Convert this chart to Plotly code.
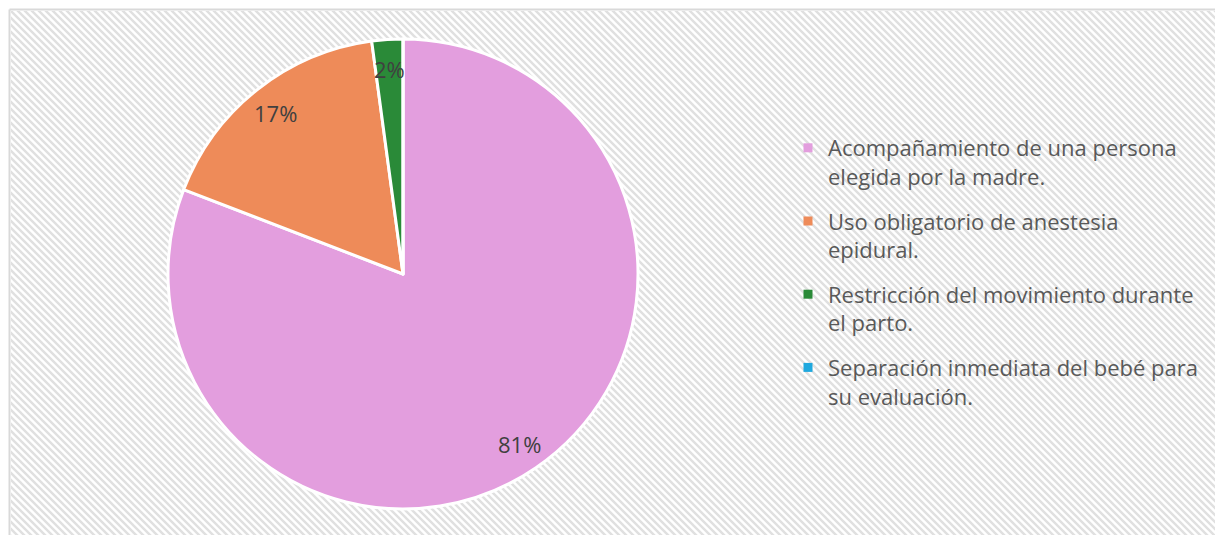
import base64
import math
import plotly.graph_objects as go

W, H = 1215, 535

labels = [
    "Acompañamiento de una persona<br>elegida por la madre.",
    "Uso obligatorio de anestesia<br>epidural.",
    "Restricción del movimiento durante<br>el parto.",
    "Separación inmediata del bebé para<br>su evaluación.",
]
values = [38, 8, 1, 0]
colors = ["#E39EDE", "#EE8B59", "#2A8A38", "#1FA8DE"]

# pie geometry in pixels (used for the domain and label placement)
CX, CY, R = 403, 274, 235

# diagonal hatch background, like the Excel "light downward diagonal" fill
svg = (
    f'<svg xmlns="http://www.w3.org/2000/svg" width="{W}" height="{H}">'
    '<defs><pattern id="p" width="7" height="7" patternUnits="userSpaceOnUse">'
    '<rect width="7" height="7" fill="#ffffff"/>'
    '<path d="M-1,-1 L8,8 M-1,6 L1,8 M6,-1 L8,1" stroke="#E0E0E0" stroke-width="2.4"/>'
    '</pattern></defs>'
    f'<rect x="11" y="11" width="{W}" height="{H}" fill="url(#p)"/>'
    '</svg>'
)
bg_src = "data:image/svg+xml;base64," + base64.b64encode(svg.encode()).decode()

fig = go.Figure()

fig.add_trace(go.Pie(
    labels=labels,
    values=values,
    sort=False,
    direction="clockwise",
    rotation=0,
    textinfo="none",
    hoverinfo="label+percent",
    showlegend=False,
    marker=dict(colors=colors, line=dict(color="white", width=3)),
    domain=dict(x=[(CX - R) / W, (CX + R) / W], y=[1 - (CY + R) / H, 1 - (CY - R) / H]),
))

# legend entries, one group each so the gap between entries can be set
for name, c in zip(labels, colors):
    fig.add_trace(go.Scatter(
        x=[None], y=[None], mode="markers", name=name, legendgroup=name,
        marker=dict(symbol="square", size=9, color=c, line=dict(width=0)),
    ))

# percentage labels along each slice's bisector
total = sum(values)
cum = 0
for v in values:
    if v > 0:
        theta = 2 * math.pi * (cum + v / 2) / total
        px = CX + 0.875 * R * math.sin(theta)
        py = CY - 0.875 * R * math.cos(theta)
        fig.add_annotation(
            x=px / W, y=1 - py / H, xref="paper", yref="paper",
            xanchor="center", yanchor="middle",
            text=f"{round(100 * v / total)}%", showarrow=False,
            font=dict(size=22, color="#404040"),
        )
    cum += v

fig.add_layout_image(dict(
    source=bg_src, xref="paper", yref="paper", x=0, y=1, sizex=1, sizey=1,
    xanchor="left", yanchor="top", sizing="stretch", layer="below",
))

# chart border: only the left and top edges fall inside the picture
bx, by = 9.5 / W, 1 - 9.5 / H
border = dict(color="#D9D9D9", width=2)
fig.add_shape(type="line", xref="paper", yref="paper", x0=bx, y0=-0.05, x1=bx, y1=by, line=border)
fig.add_shape(type="line", xref="paper", yref="paper", x0=bx, y0=by, x1=1.05, y1=by, line=border)

fig.update_layout(
    width=W, height=H,
    margin=dict(l=0, r=0, t=0, b=0),
    paper_bgcolor="white",
    plot_bgcolor="rgba(0,0,0,0)",
    font=dict(family="Open Sans", color="#595959"),
    xaxis=dict(visible=False),
    yaxis=dict(visible=False),
    showlegend=True,
    legend=dict(
        x=(829 - 41) / W, y=1 - (149 - 22) / H,
        xanchor="left", yanchor="top",
        font=dict(size=22, color="#595959"),
        bgcolor="rgba(0,0,0,0)",
        traceorder="grouped",
        tracegroupgap=13,
        valign="top",
    ),
)

fig.write_html(
    "out.html",
    config={"displayModeBar": False},
    post_script="document.body.style.margin='0';document.body.style.overflow='hidden';",
)
